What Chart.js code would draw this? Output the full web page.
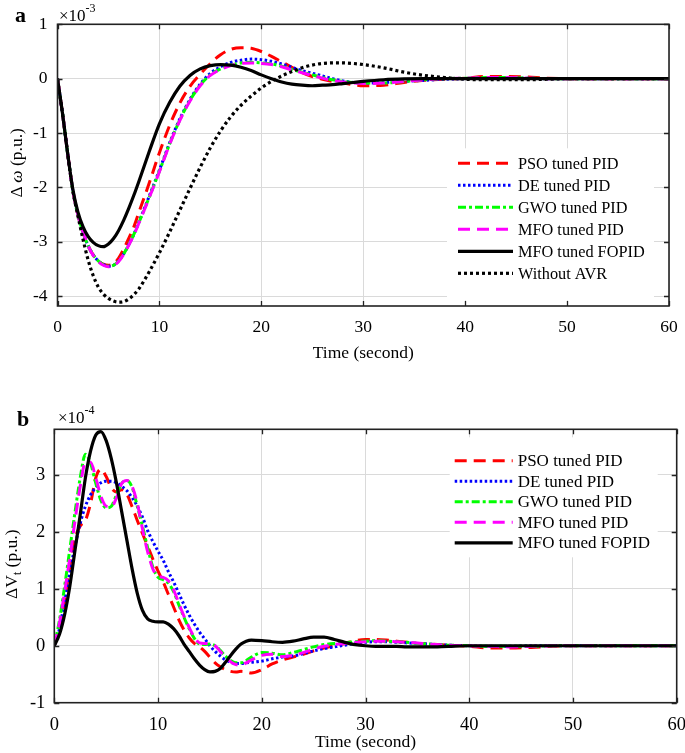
<!DOCTYPE html>
<html>
<head>
<meta charset="utf-8">
<script src="https://cdn.jsdelivr.net/npm/chart.js@4.4.1/dist/chart.umd.min.js"></script>
<style>
  html, body { margin:0; padding:0; background:#fff; }
  body { width:685px; height:753px; position:relative; overflow:hidden; font-family:"Liberation Serif","Times New Roman",serif; color:#000; }
  canvas { position:absolute; left:0; }
  #c1 { top:0; }
  #c2 { top:380px; }
  .lbl { position:absolute; white-space:nowrap; line-height:1; }
  .panel { font-weight:bold; font-size:22px; }
  .exp { font-size:17px; }
  .exp sup { font-size:12px; position:relative; top:-2px; }
  .ytitle { font-size:17.5px; transform-origin:center center; }
  .ytitle sub { font-size:12px; }
</style>
</head>
<body>
<canvas id="c1" width="685" height="364"></canvas>
<canvas id="c2" width="685" height="373"></canvas>

<div class="lbl panel" style="left:15px; top:4px;">a</div>
<div class="lbl exp" style="left:59px; top:4px;">×10<sup>-3</sup></div>
<div class="lbl ytitle" id="yt1" style="left:-18px; top:154px; transform:rotate(-90deg);">Δ <i>ω</i> (p.u.)</div>

<div class="lbl panel" style="left:17px; top:408px;">b</div>
<div class="lbl exp" style="left:58px; top:406px;">×10<sup>-4</sup></div>
<div class="lbl ytitle" id="yt2" style="left:-22px; top:554px; transform:rotate(-90deg);">ΔV<sub>t</sub> (p.u.)</div>

<script>
// ---------------- DATA ----------------
const seriesNames = ["PSO tuned PID", "DE tuned PID", "GWO tuned PID", "MFO tuned PID", "MFO tuned FOPID", "Without AVR"];
const xTicks = [0, 10, 20, 30, 40, 50, 60];
const topYTicks = [-4, -3, -2, -1, 0, 1];
const botYTicks = [-1, 0, 1, 2, 3];

// (a) speed deviation, units of 1e-3 p.u.
const topTime  = [0,0.5,1,1.5,2,2.5,3,3.5,4,4.5,5,5.5,6,6.5,7,7.5,8,9,10,11,12,13,14,15,16,17,18,19,20,21,22,23,24,25,26,27,28,29,30,32,34,36,38,40,42,44,46,48,50,55,60];
const topPSO   = [0,-0.65,-1.38,-2.05,-2.5,-2.82,-3.07,-3.24,-3.35,-3.41,-3.43,-3.4,-3.3,-3.13,-2.93,-2.72,-2.45,-1.92,-1.36,-0.86,-0.45,-0.14,0.08,0.28,0.44,0.54,0.57,0.56,0.5,0.41,0.31,0.21,0.11,0.04,-0.01,-0.05,-0.08,-0.11,-0.13,-0.12,-0.07,-0.03,-0.01,0.01,0.04,0.04,0.03,0.01,0,0,0];
const topDE    = [0,-0.65,-1.38,-2.05,-2.5,-2.82,-3.07,-3.24,-3.35,-3.42,-3.45,-3.43,-3.35,-3.22,-3.05,-2.86,-2.63,-2.16,-1.68,-1.18,-0.74,-0.38,-0.1,0.1,0.22,0.3,0.34,0.36,0.35,0.32,0.27,0.21,0.15,0.1,0.05,0.0,-0.04,-0.07,-0.08,-0.07,-0.05,-0.03,-0.01,0,0.01,0.01,0.01,0,0,0,0];
const topGWO   = [0,-0.65,-1.38,-2.05,-2.5,-2.82,-3.07,-3.24,-3.35,-3.42,-3.45,-3.43,-3.35,-3.22,-3.05,-2.86,-2.64,-2.18,-1.7,-1.2,-0.76,-0.4,-0.12,0.07,0.18,0.25,0.29,0.3,0.29,0.27,0.23,0.17,0.12,0.07,0.02,-0.02,-0.05,-0.07,-0.08,-0.08,-0.05,-0.02,0,0.01,0.02,0.02,0.01,0,0,0,0];
const topMFO   = [0,-0.65,-1.38,-2.05,-2.5,-2.82,-3.07,-3.25,-3.36,-3.43,-3.46,-3.44,-3.36,-3.23,-3.06,-2.87,-2.65,-2.19,-1.71,-1.21,-0.77,-0.41,-0.13,0.06,0.17,0.24,0.28,0.29,0.28,0.26,0.22,0.16,0.11,0.06,0.01,-0.03,-0.06,-0.08,-0.09,-0.08,-0.05,-0.02,0,0.01,0.02,0.02,0.01,0,0,0,0];
const topFOPID = [0,-0.65,-1.38,-2.03,-2.45,-2.72,-2.9,-3.01,-3.07,-3.09,-3.04,-2.94,-2.79,-2.6,-2.38,-2.14,-1.88,-1.34,-0.83,-0.44,-0.14,0.06,0.18,0.24,0.26,0.25,0.21,0.15,0.07,0.0,-0.06,-0.1,-0.12,-0.13,-0.12,-0.11,-0.09,-0.07,-0.05,-0.02,-0.005,0,0,0,0,0,0,0,0,0,0];
const topNoAVR = [0,-0.65,-1.38,-2.05,-2.52,-2.95,-3.33,-3.62,-3.83,-3.96,-4.04,-4.09,-4.11,-4.1,-4.05,-3.97,-3.86,-3.55,-3.2,-2.82,-2.42,-2.02,-1.63,-1.27,-0.96,-0.7,-0.49,-0.32,-0.17,-0.05,0.05,0.13,0.2,0.25,0.28,0.29,0.29,0.28,0.26,0.2,0.12,0.06,0.02,-0.01,-0.02,-0.02,-0.02,-0.01,0,0,0];

// (b) terminal voltage deviation, units of 1e-4 p.u.
const botTime  = [0,0.5,1,1.5,2,2.5,3,3.5,4,4.5,5,5.5,6,6.5,7,7.5,8,8.5,9,9.5,10,10.5,11,11.5,12,12.5,13,13.5,14,14.5,15,15.5,16,16.5,17,17.5,18,18.5,19,20,21,22,23,24,25,26,27,28,29,30,31,32,33,34,35,36,38,40,42,44,46,48,50,55,60];
const botPSO   = [0,0.28,0.8,1.4,1.88,2.1,2.2,2.5,2.95,3.1,2.97,2.77,2.7,2.74,2.66,2.44,2.2,1.97,1.75,1.52,1.31,1.12,0.9,0.68,0.46,0.28,0.14,0.04,-0.02,-0.1,-0.2,-0.3,-0.37,-0.42,-0.45,-0.46,-0.45,-0.46,-0.48,-0.42,-0.32,-0.25,-0.2,-0.15,-0.09,-0.04,0,0.04,0.09,0.11,0.11,0.1,0.08,0.06,0.04,0.03,0.01,-0.01,-0.04,-0.04,-0.03,-0.01,0,0,0];
const botDE    = [0,0.3,0.8,1.3,1.75,2.15,2.45,2.65,2.78,2.86,2.89,2.89,2.86,2.8,2.72,2.6,2.45,2.26,2.02,1.83,1.66,1.5,1.3,1.12,0.92,0.72,0.54,0.38,0.24,0.12,0,-0.1,-0.18,-0.25,-0.29,-0.31,-0.31,-0.3,-0.29,-0.27,-0.23,-0.2,-0.18,-0.14,-0.09,-0.05,-0.02,0.01,0.04,0.06,0.07,0.07,0.06,0.05,0.04,0.03,0.01,0,-0.01,-0.01,0,0,0,0,0];
const botGWO   = [0,0.45,1.05,1.7,2.35,2.95,3.36,3.2,2.85,2.55,2.42,2.45,2.65,2.85,2.9,2.78,2.45,2.1,1.72,1.38,1.2,1.16,1.1,0.95,0.72,0.5,0.3,0.13,0.03,0.02,0.03,0,-0.08,-0.18,-0.26,-0.3,-0.3,-0.26,-0.2,-0.12,-0.13,-0.16,-0.12,-0.07,-0.02,0.02,0.04,0.05,0.07,0.08,0.09,0.08,0.07,0.06,0.04,0.03,0.01,0,-0.01,-0.01,-0.01,0,0,0,0];
const botMFO   = [0,0.4,0.95,1.55,2.2,2.8,3.22,3.22,2.95,2.62,2.45,2.44,2.6,2.85,2.9,2.8,2.5,2.05,1.65,1.35,1.22,1.2,1.14,0.98,0.75,0.52,0.32,0.15,0.05,0.04,0.04,0,-0.1,-0.2,-0.28,-0.33,-0.34,-0.3,-0.25,-0.17,-0.15,-0.19,-0.17,-0.12,-0.06,-0.01,0.02,0.04,0.06,0.07,0.08,0.08,0.07,0.06,0.05,0.03,0.01,0,-0.01,-0.02,-0.01,0,0,0,0];
const botFOPID = [0,0.2,0.55,1.05,1.68,2.3,2.95,3.42,3.7,3.76,3.6,3.28,2.85,2.35,1.85,1.35,0.92,0.62,0.47,0.43,0.42,0.42,0.38,0.3,0.18,0.03,-0.1,-0.23,-0.34,-0.42,-0.46,-0.45,-0.4,-0.29,-0.17,-0.06,0.03,0.08,0.1,0.09,0.07,0.06,0.08,0.12,0.15,0.15,0.11,0.06,0.02,0,-0.01,-0.01,-0.01,-0.02,-0.02,-0.02,-0.01,0,0,0,0,0,0,0,0];

// ---------------- STYLES ----------------
const styles = [
  { color:'#ff0000', dash:[12,7],     width:3 },
  { color:'#0000ff', dash:[2.5,2.5],  width:3 },
  { color:'#00ff00', dash:[8,3,3,3],  width:3 },
  { color:'#ff00ff', dash:[12,7],     width:3 },
  { color:'#000000', dash:[],         width:3.2 },
  { color:'#000000', dash:[3,3],      width:3.2 }
];
const FONT = "'Liberation Serif','Times New Roman',serif";

function mkDatasets(time, arrays) {
  return arrays.map((arr, i) => ({
    label: seriesNames[i],
    data: time.map((t, k) => ({ x: t, y: arr[k] })),
    borderColor: styles[i].color,
    borderDash: styles[i].dash,
    borderWidth: styles[i].width,
    borderCapStyle: 'butt',
    pointRadius: 0,
    fill: false,
    cubicInterpolationMode: 'monotone',
    order: arrays.length - i
  }));
}

// frame + inward ticks
const framePlugin = {
  id: 'frame',
  afterDatasetsDraw(chart) {
    const { ctx, chartArea: a, scales } = chart;
    ctx.save();
    ctx.strokeStyle = '#222';
    ctx.lineWidth = 1.3;
    const tl = 5;
    ctx.beginPath();
    scales.x.ticks.forEach(t => {
      const px = Math.round(scales.x.getPixelForValue(t.value)) + 0.5;
      ctx.moveTo(px, a.bottom); ctx.lineTo(px, a.bottom - tl);
      ctx.moveTo(px, a.top); ctx.lineTo(px, a.top + tl);
    });
    scales.y.ticks.forEach(t => {
      const py = Math.round(scales.y.getPixelForValue(t.value)) + 0.5;
      ctx.moveTo(a.left, py); ctx.lineTo(a.left + tl, py);
      ctx.moveTo(a.right, py); ctx.lineTo(a.right - tl, py);
    });
    ctx.stroke();
    ctx.lineWidth = 1.6;
    ctx.strokeRect(a.left, a.top, a.right - a.left, a.bottom - a.top);
    ctx.restore();
  }
};

// MATLAB-like boxed legend inside the axes
const boxLegendPlugin = {
  id: 'boxLegend',
  afterDraw(chart, args, o) {
    const { ctx } = chart;
    const a = chart.chartArea;
    const n = o.count;
    const x0 = a.right - o.rightOff;
    const y0 = a.top + o.topOff;
    ctx.save();
    ctx.fillStyle = '#fff';
    ctx.fillRect(x0, y0, o.w, o.h);
    ctx.font = o.fontSize + 'px ' + FONT;
    ctx.textBaseline = 'middle';
    ctx.textAlign = 'left';
    for (let i = 0; i < n; i++) {
      const ds = chart.data.datasets[i];
      const y = y0 + o.firstRow + i * o.rowH;
      ctx.beginPath();
      ctx.strokeStyle = ds.borderColor;
      ctx.lineWidth = ds.borderWidth;
      ctx.setLineDash(ds.borderDash);
      ctx.lineCap = 'butt';
      ctx.moveTo(x0 + o.sampleX, y);
      ctx.lineTo(x0 + o.sampleX + o.sampleLen, y);
      ctx.stroke();
      ctx.setLineDash([]);
      ctx.fillStyle = '#000';
      ctx.fillText(ds.label, x0 + o.textX, y + 1);
    }
    ctx.restore();
  }
};

function mkOptions(cfg) {
  return {
    responsive: false,
    animation: false,
    events: [],
    layout: { padding: { left: 0, top: cfg.padTop, right: cfg.padRight, bottom: 0 } },
    plugins: {
      legend: { display: false },
      tooltip: { enabled: false },
      boxLegend: cfg.legend
    },
    scales: {
      x: {
        type: 'linear', min: 0, max: 60,
        afterBuildTicks: s => { s.ticks = xTicks.map(v => ({ value: v })); },
        afterFit: s => { s.height = cfg.xAxisH; s.paddingLeft = 0; s.paddingRight = 0; },
        grid: { color: '#dadada', lineWidth: 1, drawTicks: false },
        border: { display: false },
        ticks: { color: '#000', font: { family: FONT, size: cfg.tickSize }, padding: cfg.xPad, maxRotation: 0 },
        title: { display: true, text: 'Time (second)', color: '#000', font: { family: FONT, size: 17.5 }, padding: { top: cfg.titlePad, bottom: 0 } }
      },
      y: {
        type: 'linear', min: cfg.ymin, max: cfg.ymax,
        afterBuildTicks: s => { s.ticks = cfg.yTicks.map(v => ({ value: v })); },
        afterFit: s => { s.width = cfg.plotLeft; s.paddingTop = 0; s.paddingBottom = 0; },
        grid: { color: '#dadada', lineWidth: 1, drawTicks: false },
        border: { display: false },
        ticks: { color: '#000', font: { family: FONT, size: cfg.tickSize }, padding: cfg.yPad }
      }
    }
  };
}

new Chart(document.getElementById('c1'), {
  type: 'line',
  data: { datasets: mkDatasets(topTime, [topPSO, topDE, topGWO, topMFO, topFOPID, topNoAVR]) },
  options: mkOptions({
    padTop: 24.3, padRight: 16, plotLeft: 57.5, xAxisH: 58, xPad: 11, titlePad: 4, yPad: 10, tickSize: 17.5,
    ymin: -4.18, ymax: 1, yTicks: topYTicks,
    legend: { count: 6, rightOff: 222, topOff: 124, w: 207, h: 152, firstRow: 15, rowH: 22, sampleX: 11, sampleLen: 55, textX: 71, fontSize: 16.3 }
  }),
  plugins: [framePlugin, boxLegendPlugin]
});

new Chart(document.getElementById('c2'), {
  type: 'line',
  data: { datasets: mkDatasets(botTime, [botPSO, botDE, botGWO, botMFO, botFOPID]) },
  options: mkOptions({
    padTop: 49.3, padRight: 8.3, plotLeft: 54.3, xAxisH: 50.3, xPad: 11, titlePad: 1, yPad: 9, tickSize: 18.5,
    ymin: -1, ymax: 3.8, yTicks: botYTicks,
    legend: { count: 5, rightOff: 227, topOff: 8, w: 208, h: 120, firstRow: 23.5, rowH: 20.5, sampleX: 5, sampleLen: 58, textX: 68, fontSize: 17 }
  }),
  plugins: [framePlugin, boxLegendPlugin]
});
</script>
</body>
</html>
